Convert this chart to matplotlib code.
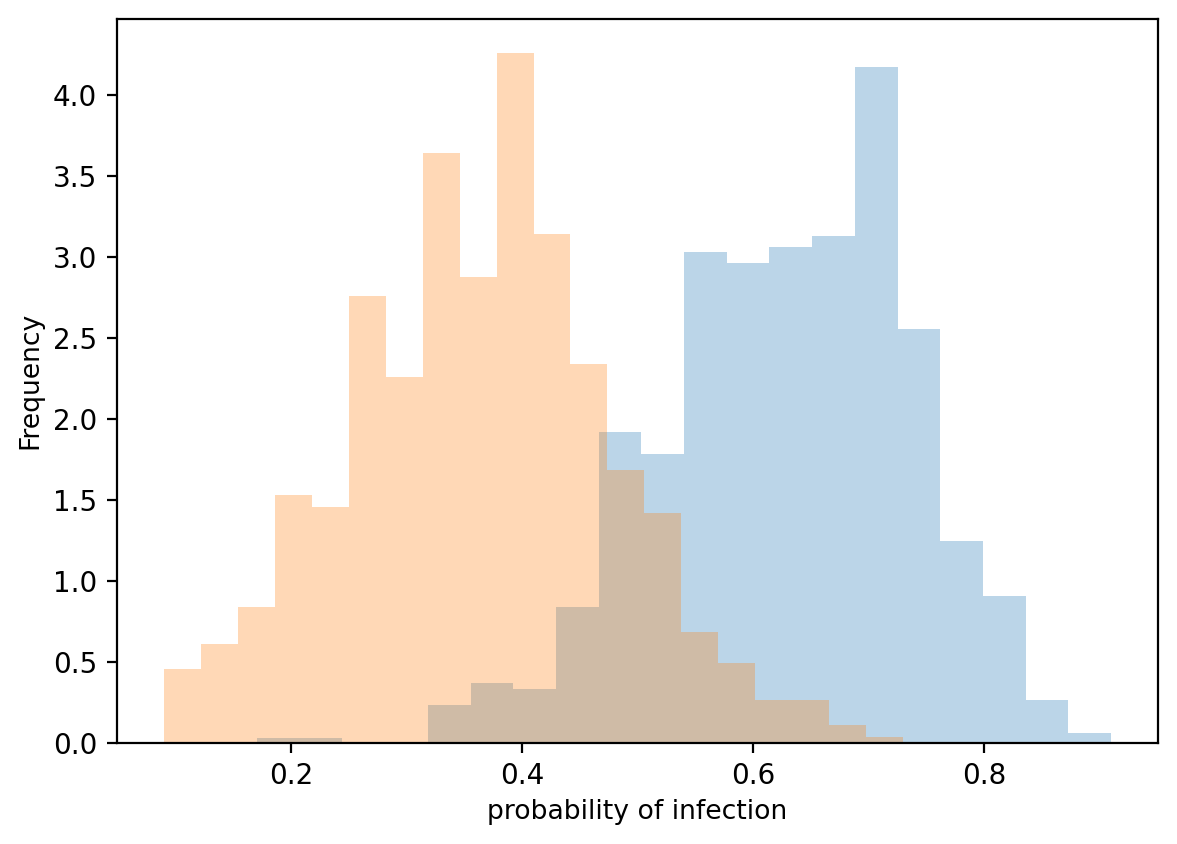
import matplotlib
matplotlib.use("Agg")
import matplotlib.pyplot as plt
import numpy as np

# density heights, 20 bins each
blue_range = (0.1706, 0.910)
blue_density = [0.030, 0.030, 0.0, 0.0, 0.235, 0.371, 0.334, 0.840, 1.921, 1.785,
                3.033, 2.965, 3.064, 3.132, 4.176, 2.557, 1.248, 0.908, 0.266, 0.062]

orange_range = (0.0900, 0.7299)
orange_density = [0.457, 0.611, 0.840, 1.532, 1.458, 2.761, 2.261, 3.644, 2.878, 4.262,
                  3.144, 2.341, 1.686, 1.421, 0.686, 0.494, 0.266, 0.266, 0.111, 0.034]

N_BINS = 20


def bin_centers(lo, hi, n):
    edges = np.linspace(lo, hi, n + 1)
    return (edges[:-1] + edges[1:]) / 2


fig = plt.figure(figsize=(5.885, 4.22), dpi=200)
ax = fig.add_axes([0.0991, 0.1197, 0.8851, 0.8583])

ax.hist(bin_centers(*blue_range, N_BINS), bins=N_BINS, range=blue_range,
        weights=blue_density, alpha=0.3, color="C0")
ax.hist(bin_centers(*orange_range, N_BINS), bins=N_BINS, range=orange_range,
        weights=orange_density, alpha=0.3, color="C1")

ax.set_xlabel("probability of infection", fontsize=9.6, labelpad=3)
ax.set_ylabel("Frequency", fontsize=9.6, labelpad=3.5)

fig.savefig("out.png", dpi=200)
